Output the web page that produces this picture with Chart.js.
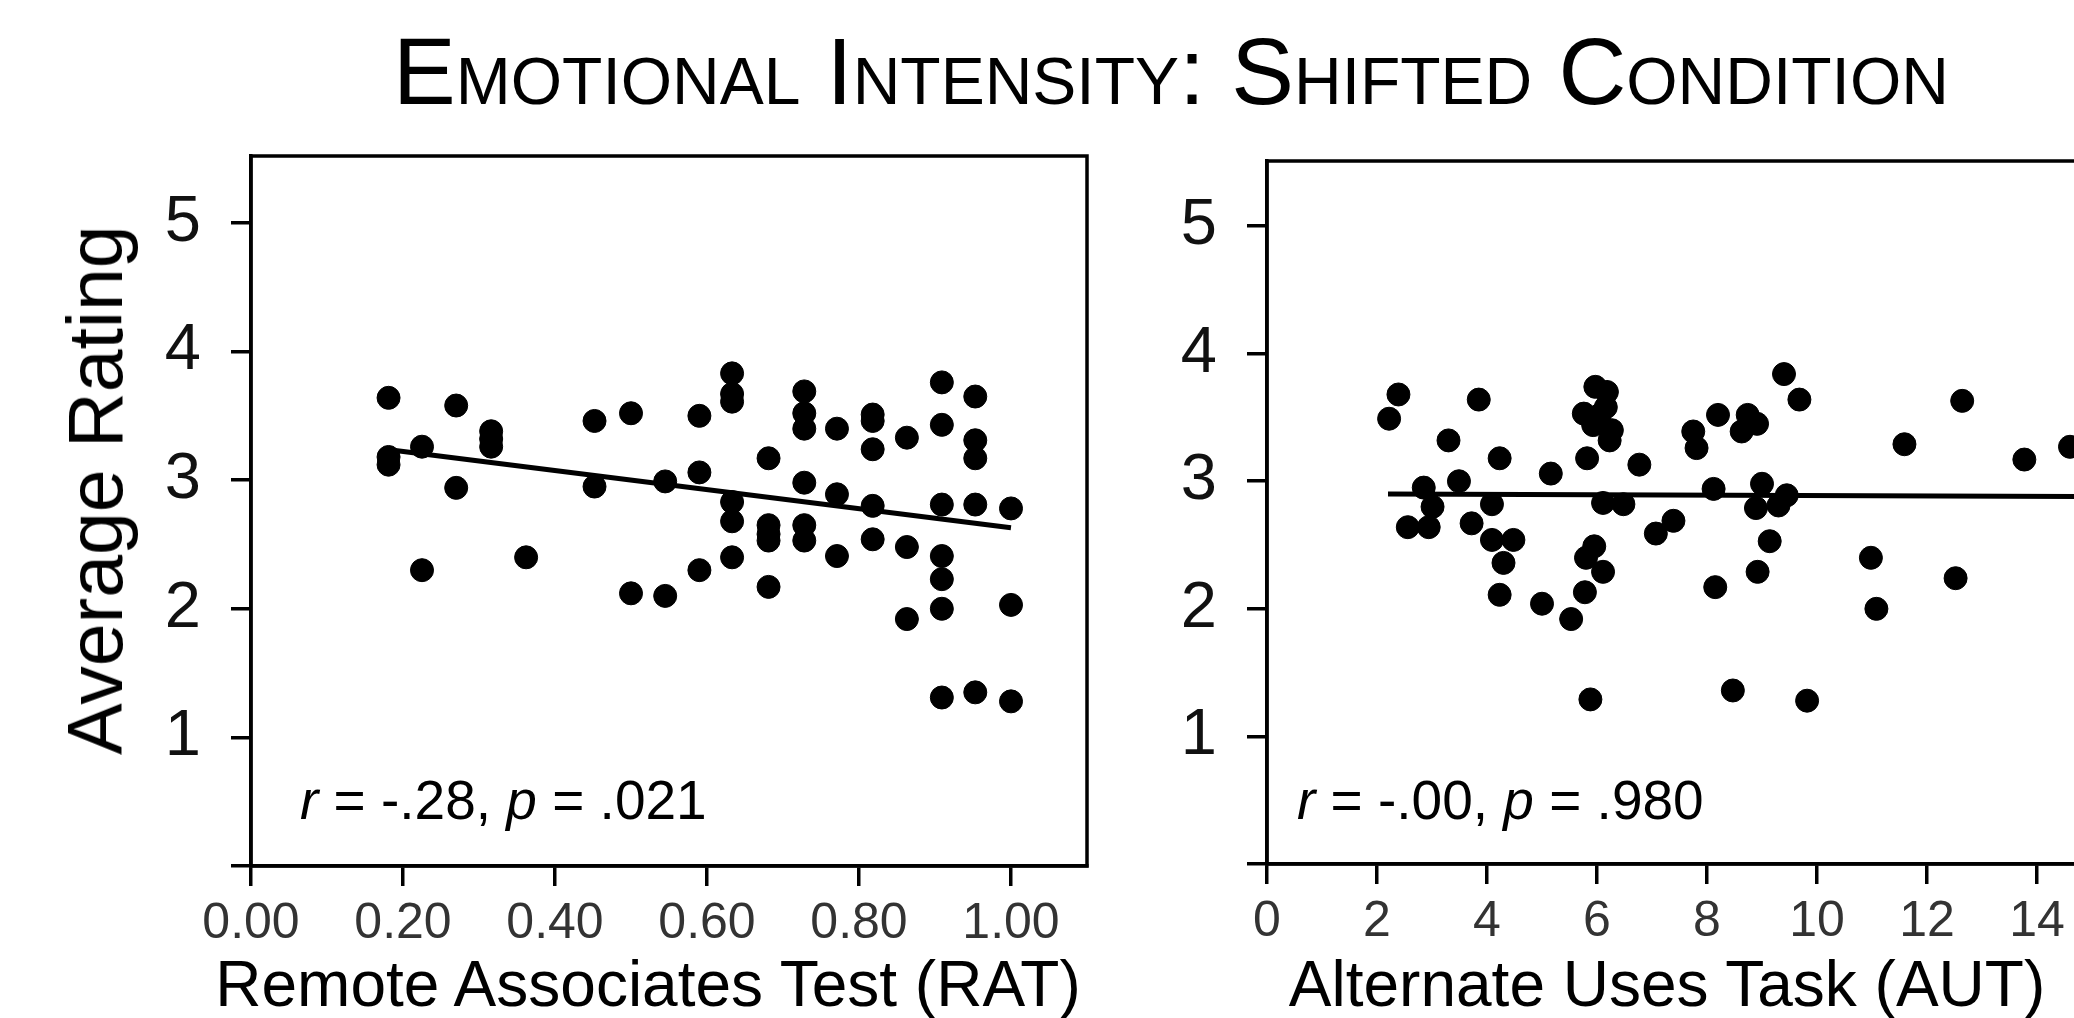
<!DOCTYPE html>
<html><head><meta charset="utf-8">
<script src="https://cdn.jsdelivr.net/npm/chart.js@4.4.0/dist/chart.umd.min.js"></script>
<style>
html,body{margin:0;padding:0;width:2074px;height:1018px;overflow:hidden;background:#fff;font-family:"Liberation Sans",Arial,sans-serif;}
.t{position:absolute;white-space:nowrap;color:#000;}
canvas{position:absolute;top:0;}
</style></head><body>
<div style="position:absolute;left:0;top:0;width:1100px;height:1018px;"><canvas id="c1"></canvas></div>
<div style="position:absolute;left:1110px;top:0;width:1000px;height:1018px;"><canvas id="c2"></canvas></div>
<div class="t" id="title" style="left:1171px;top:22px;transform:translateX(-50%);font-size:94px;font-variant:small-caps;line-height:100px;">Emotional Intensity: Shifted Condition</div>
<div class="t" style="left:95px;top:490px;transform:translate(-50%,-50%) rotate(-90deg);font-size:77px;line-height:80px;">Average Rating</div>
<div class="t" style="left:648px;top:944px;transform:translateX(-50%);font-size:64px;line-height:80px;">Remote Associates Test (RAT)</div>
<div class="t" style="left:1667px;top:944px;transform:translateX(-50%);font-size:64px;line-height:80px;">Alternate Uses Task (AUT)</div>
<div class="t" style="left:300px;top:770px;font-size:55px;line-height:60px;"><i>r</i> = -.28, <i>p</i> = .021</div>
<div class="t" style="left:1297px;top:770px;font-size:55px;line-height:60px;"><i>r</i> = -.00, <i>p</i> = .980</div>
<script>
const ratX=[.181,.181,.181,.225,.225,.27,.27,.316,.316,.316,.362,.452,.452,.50,.50,.545,.545,.59,.59,.59,.633,.633,.633,.633,.633,.633,.681,.681,.681,.681,.681,.728,.728,.728,.728,.728,.728,.771,.771,.771,.818,.818,.818,.818,.818,.863,.863,.863,.909,.909,.909,.909,.909,.909,.909,.953,.953,.953,.953,.953,1.0,1.0,1.0];
const ratY=[3.64,3.18,3.12,3.26,2.30,3.58,2.94,3.38,3.32,3.26,2.40,3.46,2.95,3.52,2.12,2.99,2.10,3.50,3.06,2.30,3.83,3.67,3.61,2.83,2.68,2.40,3.17,2.65,2.58,2.53,2.17,3.69,3.52,3.40,2.98,2.65,2.53,3.40,2.89,2.41,3.51,3.46,3.24,2.80,2.54,3.33,2.48,1.92,3.76,3.43,2.81,2.41,2.23,2.00,1.31,3.65,3.31,3.17,2.81,1.35,2.78,2.03,1.28];
const ratFitX=[0.19,1.0], ratFitY=[3.23,2.63];
const autX=[2.22,2.39,2.56,2.85,2.94,3.01,3.30,3.49,3.72,3.85,4.09,4.09,4.23,4.30,4.23,4.48,5.0,5.16,5.53,5.76,5.78,5.82,5.80,5.95,5.88,5.97,5.93,6.05,6.18,6.16,6.27,6.23,6.11,6.11,6.48,6.77,7.07,7.39,7.75,7.81,8.12,8.20,8.15,8.47,8.63,8.74,8.91,9.00,8.89,8.92,9.14,9.30,9.45,9.40,9.68,9.82,10.98,11.08,11.59,12.52,12.64,13.77,14.6];
const autY=[3.49,3.68,2.64,2.95,2.64,2.80,3.32,3.00,2.67,3.64,2.82,2.54,3.18,2.36,2.11,2.54,2.04,3.06,1.92,3.53,2.13,3.18,2.40,2.49,1.29,3.74,3.44,3.52,3.70,3.58,3.40,3.32,2.83,2.29,2.82,3.13,2.59,2.69,3.39,3.26,2.94,3.52,2.17,1.36,3.39,3.52,3.45,2.98,2.79,2.29,2.53,2.81,2.89,3.84,3.64,1.28,2.40,2.00,3.29,2.24,3.63,3.17,3.27];
const autFitX=[2.2,14.7], autFitY=[2.90,2.88];
const yTicks=[0,1,2,3,4,5], ratTicks=[0,0.2,0.4,0.6,0.8,1.0], autTicks=[0,2,4,6,8,10,12,14];

const boxPlugin={id:'box',afterDraw(c){const a=c.chartArea,x=c.ctx;x.save();x.strokeStyle='#000';x.lineWidth=3.5;x.strokeRect(a.left,a.top,a.right-a.left,a.bottom-a.top);x.restore();}};
function make(id,xs,ys,fx,fy,xmax,xt,fmt,yw,ymax,padR,padT,xh){
  const pts=xs.map((v,i)=>({x:v,y:ys[i]}));
  const fit=fx.map((v,i)=>({x:v,y:fy[i]}));
  return new Chart(document.getElementById(id),{
    type:'scatter',
    data:{datasets:[
      {data:fit,type:'line',borderColor:'#000',borderWidth:5,pointRadius:0,showLine:true,fill:false},
      {data:pts,backgroundColor:'#000',borderColor:'#000',pointRadius:11.5,pointHoverRadius:11.5}]},
    options:{responsive:true,maintainAspectRatio:false,animation:false,
      layout:{padding:{top:padT,right:padR,left:0,bottom:0}},
      plugins:{legend:{display:false},tooltip:{enabled:false}},
      scales:{
        x:{type:'linear',min:0,max:xmax,
          afterBuildTicks(s){s.ticks=xt.map(v=>({value:v}));},
          afterFit(s){s.height=xh;},
          border:{color:'#000',width:3.5},
          grid:{drawOnChartArea:false,color:'#000',lineWidth:3.5,tickLength:20},
          ticks:{color:'#333',font:{size:50,family:'Liberation Sans'},padding:8,maxRotation:0,autoSkip:false,callback:v=>fmt(v)}},
        y:{type:'linear',min:0,max:ymax,
          afterBuildTicks(s){s.ticks=yTicks.map(v=>({value:v}));},
          afterFit(s){s.width=yw;},
          border:{color:'#000',width:3.5},
          grid:{drawOnChartArea:false,color:'#000',lineWidth:3.5,tickLength:20},
          ticks:{color:'#111',font:{size:65,family:'Liberation Sans'},padding:30,callback:v=>v===0?'':String(v)}}
      }},
    plugins:[boxPlugin]});
}
make('c1',ratX,ratY,ratFitX,ratFitY,1.1,ratTicks,v=>v.toFixed(2),251,5.52,13,156,152);
make('c2',autX,autY,autFitX,autFitY,15,autTicks,v=>String(v),157,5.51,18,161,154);
</script>
</body></html>
